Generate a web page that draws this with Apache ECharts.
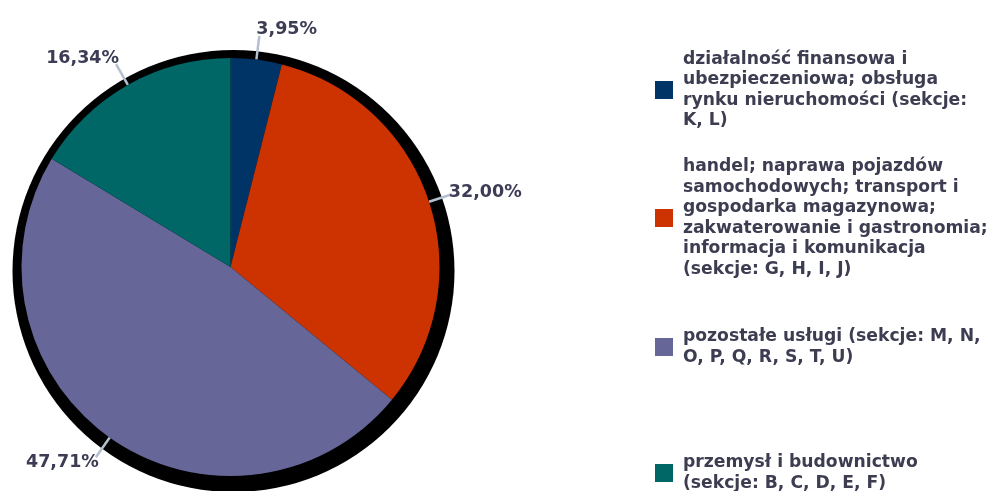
<!DOCTYPE html>
<html>
<head>
<meta charset="utf-8">
<script src="https://cdn.jsdelivr.net/npm/echarts@6/dist/echarts.min.js"></script>
<style>
html,body{margin:0;padding:0;background:#fff;}
#chart{width:993px;height:491px;}
</style>
</head>
<body>
<div id="chart"></div>
<script>
// dane wykresu
var categories = [
  'działalność finansowa i\nubezpieczeniowa; obsługa\nrynku nieruchomości (sekcje:\nK, L)',
  'handel; naprawa pojazdów\nsamochodowych; transport i\ngospodarka magazynowa;\nzakwaterowanie i gastronomia;\ninformacja i komunikacja\n(sekcje: G, H, I, J)',
  'pozostałe usługi (sekcje: M, N,\nO, P, Q, R, S, T, U)',
  'przemysł i budownictwo\n(sekcje: B, C, D, E, F)'
];
var shares = [3.95, 32.00, 47.71, 16.34];
var colors = ['#003366', '#cc3300', '#666699', '#006666'];

var myChart = echarts.init(document.getElementById('chart'));

// legenda - osobno dla kazdej pozycji (rowne odstepy srodkow)
var legendCenters = [90, 218, 347, 473];
var lh = 20.6;
var legends = categories.map(function(name, i){
  var lines = name.split('\n').length;
  return {
    orient: 'vertical',
    left: 655,
    top: legendCenters[i] - lines * lh / 2,
    padding: 0,
    itemWidth: 18,
    itemHeight: 18,
    icon: 'rect',
    data: [name],
    selectedMode: false,
    textStyle: {
      fontFamily: 'DejaVu Sans',
      fontWeight: 'bold',
      fontSize: 17.2,
      lineHeight: lh,
      color: '#3d3d52',
      padding: [0, 0, 0, 5]
    }
  };
});

var pieData = categories.map(function(name, i){
  return { name: name, value: shares[i], itemStyle: { color: colors[i] } };
});

var option = {
  animation: false,
  legend: legends,
  series: [{
    // czarne tlo pod kolem
    type: 'pie',
    silent: true,
    z: 1,
    center: [233.5, 271],
    radius: 221,
    label: { show: false },
    labelLine: { show: false },
    data: [{ name: '', value: 1, itemStyle: { color: '#000' } }]
  }, {
    type: 'pie',
    z: 3,
    center: [230.5, 267],
    radius: 209,
    startAngle: 90,
    clockwise: true,
    data: pieData,
    label: {
      show: true,
      position: 'outside',
      distanceToLabelLine: -3,
      fontFamily: 'DejaVu Sans',
      fontWeight: 'bold',
      fontSize: 17.5,
      color: '#3c3c55',
      formatter: function(p){
        return p.value.toFixed(2).replace('.', ',') + '%';
      }
    },
    labelLine: {
      show: true,
      length: 24,
      length2: 0,
      smooth: false,
      lineStyle: { color: '#b4c0d0', width: 2.5 }
    },
    labelLayout: function(p){
      var pts = p.labelLinePoints;
      if (!pts) return {};
      var dx = pts[1][0] - pts[0][0], dy = pts[1][1] - pts[0][1];
      var len = Math.sqrt(dx * dx + dy * dy) || 1;
      return { dy: dy / len * 6, labelLinePoints: pts };
    }
  }]
};
myChart.setOption(option);
</script>
</body>
</html>
